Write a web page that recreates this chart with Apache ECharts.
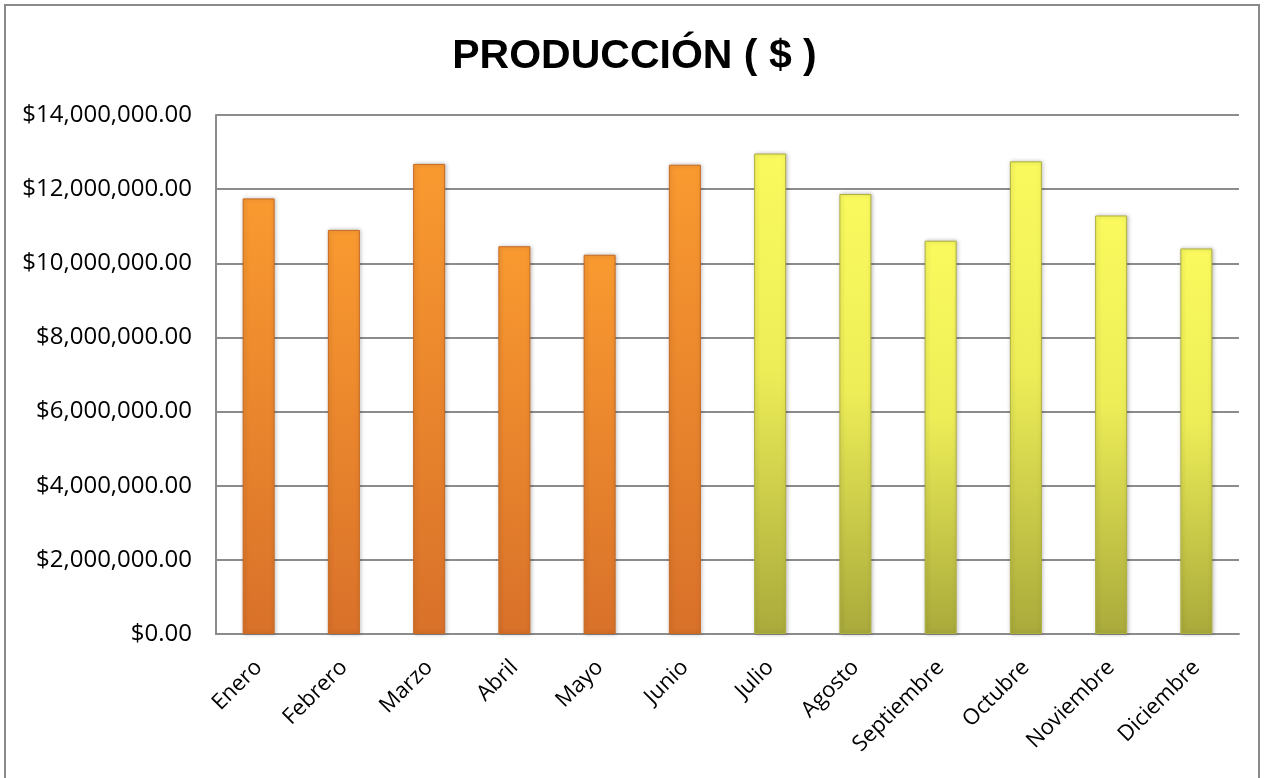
<!DOCTYPE html>
<html>
<head>
<meta charset="utf-8">
<script src="https://cdn.jsdelivr.net/npm/echarts@6/dist/echarts.min.js"></script>
<style>
  html, body { margin: 0; padding: 0; background: #fff; }
  #chart { width: 1269px; height: 778px; }
</style>
</head>
<body>
<div id="chart"></div>
<script>
const months = ['Enero', 'Febrero', 'Marzo', 'Abril', 'Mayo', 'Junio',
  'Julio', 'Agosto', 'Septiembre', 'Octubre', 'Noviembre', 'Diciembre'];
const produccion = [11750000, 10900000, 12680000, 10460000, 10230000, 12660000,
  12960000, 11870000, 10610000, 12750000, 11290000, 10400000];
const yTicks = [0, 2000000, 4000000, 6000000, 8000000, 10000000, 12000000, 14000000];

const orange = new echarts.graphic.LinearGradient(0, 0, 0, 1, [
  { offset: 0, color: '#f99a30' },
  { offset: 1, color: '#d9712a' }
]);
const yellow = new echarts.graphic.LinearGradient(0, 0, 0, 1, [
  { offset: 0, color: '#fafa5e' },
  { offset: 0.45, color: '#eded58' },
  { offset: 1, color: '#a9aa3b' }
]);

const fmt = (v) => '$' + v.toLocaleString('en-US', { minimumFractionDigits: 2, maximumFractionDigits: 2 });

const chart = echarts.init(document.getElementById('chart'));
chart.setOption({
  animation: false,
  title: {
    text: 'PRODUCCIÓN ( $ )',
    left: 'center',
    top: 31,
    textStyle: {
      fontFamily: 'Liberation Sans',
      fontWeight: 'bold',
      fontSize: 41,
      color: '#000'
    }
  },
  graphic: [{
    type: 'rect',
    z: -1,
    shape: { x: 5, y: 5, width: 1254, height: 800 },
    style: { fill: 'none', stroke: '#8a8a8a', lineWidth: 2 }
  }],
  grid: { left: 216, right: 30, top: 115, bottom: 144 },
  xAxis: {
    type: 'category',
    data: months,
    axisLine: { lineStyle: { color: '#8c8c8c', width: 2 } },
    axisTick: { show: false },
    axisLabel: {
      rotate: 45,
      margin: 30,
      interval: 0,
      fontFamily: 'Open Sans',
      fontSize: 22,
      color: '#000'
    }
  },
  yAxis: {
    type: 'value',
    min: yTicks[0],
    max: yTicks[yTicks.length - 1],
    interval: yTicks[1] - yTicks[0],
    axisLine: { show: true, lineStyle: { color: '#8c8c8c', width: 2 } },
    axisTick: { show: false },
    splitLine: { lineStyle: { color: '#8c8c8c', width: 2 } },
    axisLabel: {
      margin: 24,
      fontFamily: 'Open Sans',
      fontSize: 24,
      color: '#000',
      formatter: fmt
    }
  },
  series: [{
    type: 'bar',
    barWidth: 32,
    data: produccion.map((v, i) => ({
      value: v,
      itemStyle: {
        color: i < 6 ? orange : yellow,
        borderColor: i < 6 ? '#c86a22' : '#b0b040',
        borderWidth: 1,
        shadowColor: 'rgba(0,0,0,0.25)',
        shadowBlur: 4,
        shadowOffsetX: 1
      }
    }))
  }]
});
</script>
</body>
</html>
